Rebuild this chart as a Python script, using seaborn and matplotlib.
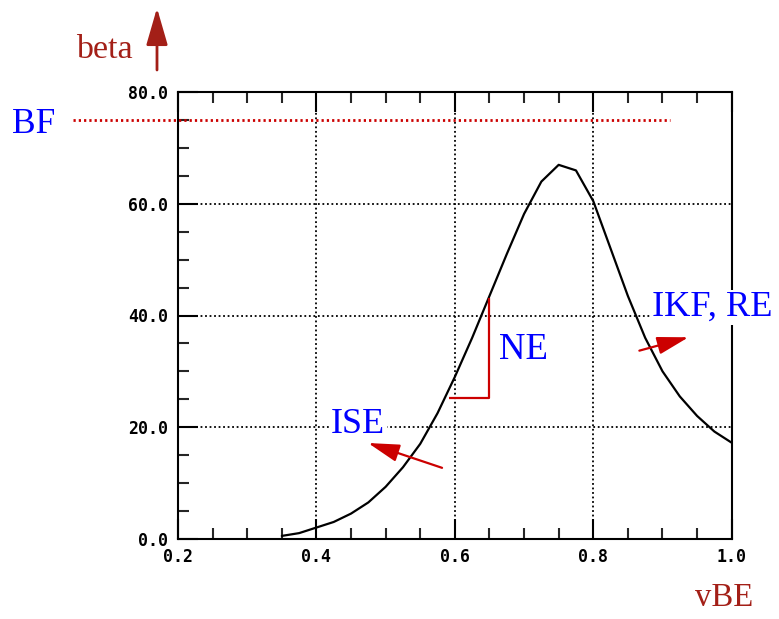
import numpy as np
import pandas as pd
import matplotlib
matplotlib.use("Agg")
import matplotlib.pyplot as plt
import seaborn as sns

# beta(vBE) curve of the bipolar transistor
vbe = [0.35, 0.375, 0.40, 0.425, 0.45, 0.475, 0.50, 0.525, 0.55, 0.575,
       0.60, 0.625, 0.65, 0.675, 0.70, 0.725, 0.75, 0.775, 0.80, 0.825,
       0.85, 0.875, 0.90, 0.925, 0.95, 0.975, 1.00]
beta = [0.5, 1.0, 2.0, 3.0, 4.5, 6.5, 9.3, 12.8, 17.0, 22.5,
        29.0, 36.0, 43.5, 51.0, 58.2, 64.0, 67.0, 66.0, 60.5, 52.0,
        43.5, 36.0, 30.0, 25.5, 22.0, 19.2, 17.2]

# forward beta level BF and its extent along vBE
bf_level = 75.0
bf_span = [0.048, 0.911]

# NE slope bracket (x corner, y bottom, y top, x left)
ne_x = [0.592, 0.65, 0.65]
ne_y = [25.2, 25.2, 43.1]

x_ticks = [0.2, 0.4, 0.6, 0.8, 1.0]
y_ticks = [0.0, 20.0, 40.0, 60.0, 80.0]
x_tick_labels = ["0.2", "0.4", "0.6", "0.8", "1.0"]
y_tick_labels = ["0.0", "20.0", "40.0", "60.0", "80.0"]

W, H = 779, 619
sns.set_style("white")
plt.rcParams["font.family"] = ["DejaVu Sans"]

fig = plt.figure(figsize=(W / 100, H / 100), dpi=100)
ax = fig.add_axes([178 / W, 1 - 538.7 / H, (731.7 - 178) / W, (538.7 - 92.3) / H])

df = pd.DataFrame({"vBE": vbe, "beta": beta})
sns.lineplot(data=df, x="vBE", y="beta", ax=ax, color="black", lw=1.6,
             zorder=3, estimator=None, sort=False)

ax.set_xlim(0.2, 1.0)
ax.set_ylim(0.0, 80.0)
ax.set_xticks(x_ticks)
ax.set_xticklabels(x_tick_labels)
ax.set_yticks(y_ticks)
ax.set_yticklabels(y_tick_labels)
ax.set_xticks(np.arange(0.2, 1.0001, 0.05), minor=True)
ax.set_yticks(np.arange(0.0, 80.001, 5.0), minor=True)
ax.set_xlabel("")
ax.set_ylabel("")

for lab in ax.get_xticklabels() + ax.get_yticklabels():
    lab.set_fontfamily("DejaVu Sans Mono")
    lab.set_fontweight("bold")
    lab.set_fontsize(12)

ax.tick_params(which="major", direction="in", length=14.5, width=1.5,
               bottom=True, top=True, left=True, right=False,
               labelbottom=True, labelleft=True, pad=7, colors="black")
ax.tick_params(which="minor", direction="in", length=8, width=1.5,
               bottom=True, top=True, left=True, right=False)

for s in ax.spines.values():
    s.set_visible(True)
    s.set_color("black")
    s.set_linewidth(1.5)

ax.grid(True, which="major", color="black", lw=1.3, linestyle=(0, (1, 1.5)))
ax.set_axisbelow(True)

red = "#cc0000"
darkred = "#a31f17"
blue = "#0000ff"

# BF level
ax.plot(bf_span, [bf_level, bf_level], color=red, lw=2.0,
        linestyle=(0, (0.8, 1.1)), clip_on=False, zorder=4)

# NE bracket
ax.plot(ne_x, ne_y, color=red, lw=1.6, zorder=4, solid_capstyle="butt")

arrow_kw = dict(arrowstyle="-|>,head_length=1.6,head_width=0.45",
                color=red, lw=1.6, mutation_scale=12,
                shrinkA=0, shrinkB=0)

# ISE and IKF/RE arrows
ax.annotate("", xy=(0.4746, 17.15), xytext=(0.5815, 12.7),
            arrowprops=arrow_kw, zorder=5)
ax.annotate("", xy=(0.9376, 36.1), xytext=(0.8666, 33.7),
            arrowprops=arrow_kw, zorder=5)

# beta axis arrow
fig_arrow = dict(arrowstyle="-|>,head_length=1.9,head_width=0.55",
                 color=darkred, lw=2.0, mutation_scale=12,
                 shrinkA=0, shrinkB=0)
ax.annotate("", xy=(157, H - 8), xytext=(157, H - 70),
            xycoords="figure pixels", textcoords="figure pixels",
            arrowprops=fig_arrow, annotation_clip=False)


def ftext(x, y, s, color, size, box=False):
    kw = {}
    if box:
        kw["bbox"] = dict(facecolor="white", edgecolor="none", pad=1.0)
    fig.text(x / W, 1 - y / H, s, color=color, fontsize=size,
             family="Liberation Serif", ha="left", va="baseline",
             zorder=6, **kw)


ftext(76, 57.5, "beta", darkred, 24.5)
ftext(12, 133.3, "BF", blue, 25.5)
ftext(499, 359, "NE", blue, 26.5, box=True)
ftext(331, 433.3, "ISE", blue, 26, box=True)
ftext(652, 316, "IKF, RE", blue, 26.2, box=True)
ftext(695, 606, "vBE", darkred, 23.5)

fig.savefig("out.png", dpi=100)
